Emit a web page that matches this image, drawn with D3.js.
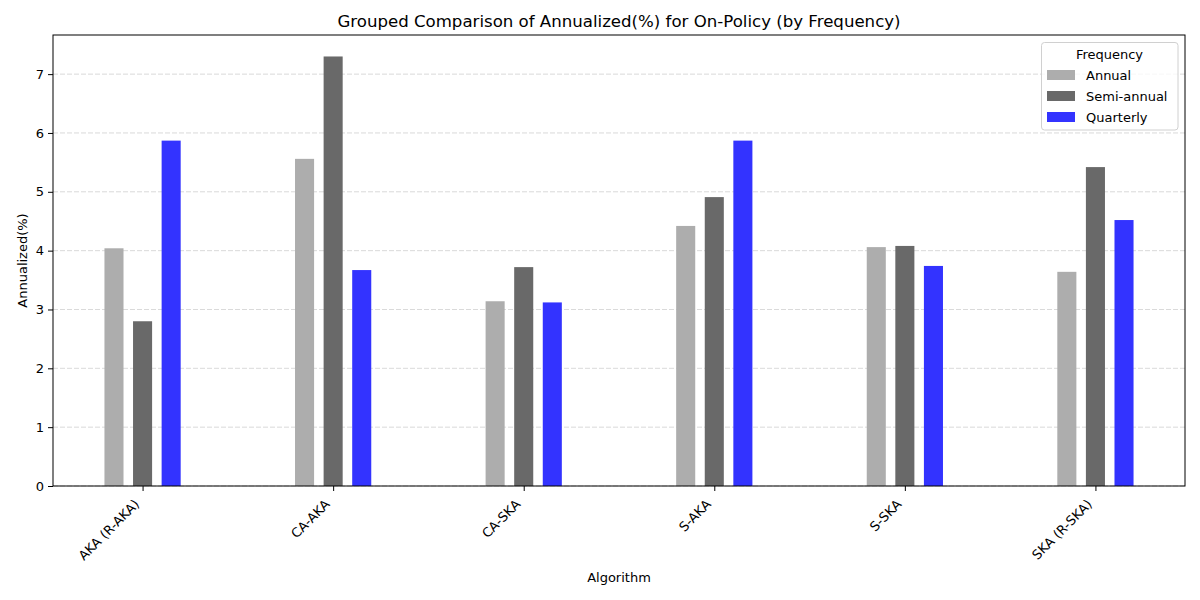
<!DOCTYPE html>
<html><head><meta charset="utf-8">
<script src="https://cdn.jsdelivr.net/npm/d3@7"></script>
<style>body{margin:0;background:#fff;} text{font-family:"DejaVu Sans",sans-serif;}</style>
</head><body><svg id="c" width="1200" height="600"></svg>
<script>
const categories = ["AKA (R-AKA)","CA-AKA","CA-SKA","S-AKA","S-SKA","SKA (R-SKA)"];
const seriesNames = ["Annual","Semi-annual","Quarterly"];
const annual = [4.04, 5.56, 3.14, 4.42, 4.06, 3.64];
const semiAnnual = [2.80, 7.30, 3.72, 4.91, 4.08, 5.42];
const quarterly = [5.87, 3.67, 3.12, 5.87, 3.74, 4.52];
const colors = ["#adadad","#696969","#3333ff"];
const yTicks = [0,1,2,3,4,5,6,7];

const series = [annual, semiAnnual, quarterly];
const svg = d3.select("#c");
const L=53, R=1185, T=35, B=486;
const x = d3.scaleLinear().domain([-0.47, categories.length-1+0.47]).range([L,R]);
const maxV = d3.max(series.flat());
const y = d3.scaleLinear().domain([0, maxV*1.05]).range([B,T]);
const bw = 0.1, off = [-0.15, 0, 0.15];

// grid
svg.append("g").selectAll("line").data(yTicks).join("line")
  .attr("x1",L).attr("x2",R).attr("y1",d=>y(d)).attr("y2",d=>y(d))
  .attr("stroke","#cccccc").attr("stroke-width",0.9).attr("stroke-dasharray","5,2").attr("opacity",0.8);

// bars
series.forEach((s,i)=>{
  svg.append("g").selectAll("rect").data(s).join("rect")
    .attr("x",(d,j)=>x(j+off[i]-bw/2)).attr("width",(d,j)=>x(j+off[i]+bw/2)-x(j+off[i]-bw/2))
    .attr("y",d=>y(d)).attr("height",d=>B-y(d)).attr("fill",colors[i]);
});

// axes
const xAxis = d3.axisBottom(x).tickValues(d3.range(categories.length)).tickFormat(i=>categories[i]).tickSize(5).tickPadding(4);
const gx = svg.append("g").attr("transform",`translate(0,${B})`).call(xAxis);
gx.select(".domain").remove();
gx.selectAll("text").attr("font-size",13).attr("fill","#000")
  .attr("text-anchor","end").attr("x",0).attr("y",0).attr("dy",0)
  .attr("transform","translate(-3,19) rotate(-45)");
gx.selectAll(".tick line").attr("stroke","#000");
const yAxis = d3.axisLeft(y).tickValues(yTicks).tickSize(5).tickPadding(4);
const gy = svg.append("g").attr("transform",`translate(${L},0)`).call(yAxis);
gy.select(".domain").remove();
gy.selectAll("text").attr("font-size",13).attr("fill","#000");
gy.selectAll(".tick line").attr("stroke","#000");

svg.append("rect").attr("x",L).attr("y",T).attr("width",R-L).attr("height",B-T)
  .attr("fill","none").attr("stroke","#000").attr("stroke-width",1);

// labels
svg.append("text").attr("x",(L+R)/2).attr("y",27).attr("text-anchor","middle").attr("font-size",16.6)
  .text("Grouped Comparison of Annualized(%) for On-Policy (by Frequency)");
svg.append("text").attr("x",(L+R)/2).attr("y",582).attr("text-anchor","middle").attr("font-size",13).text("Algorithm");
svg.append("text").attr("transform",`translate(27,${(T+B)/2}) rotate(-90)`).attr("text-anchor","middle").attr("font-size",13).text("Annualized(%)");

// legend
const lg = svg.append("g");
lg.append("rect").attr("x",1041.5).attr("y",42.5).attr("width",136.5).attr("height",87.5).attr("rx",3)
  .attr("fill","#fff").attr("fill-opacity",0.8).attr("stroke","#d0d0d0");
lg.append("text").attr("x",1109.5).attr("y",59).attr("text-anchor","middle").attr("font-size",13).text("Frequency");
seriesNames.forEach((n,i)=>{
  const yy = 75 + i*21;
  lg.append("rect").attr("x",1047).attr("y",yy-5).attr("width",28).attr("height",10).attr("fill",colors[i]);
  lg.append("text").attr("x",1086).attr("y",yy+4.5).attr("font-size",13).text(n);
});
</script></body></html>
